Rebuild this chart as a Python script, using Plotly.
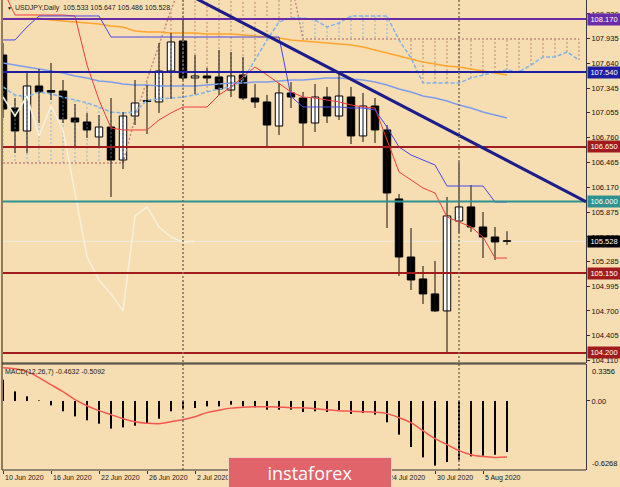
import plotly.graph_objects as go
from datetime import datetime

# ---------------- DATA ----------------
dates = ["2020-06-10", "2020-06-11", "2020-06-12", "2020-06-15", "2020-06-16", "2020-06-17",
         "2020-06-18", "2020-06-19", "2020-06-22", "2020-06-23", "2020-06-24", "2020-06-25",
         "2020-06-26", "2020-06-29", "2020-06-30", "2020-07-01", "2020-07-02", "2020-07-03",
         "2020-07-06", "2020-07-07", "2020-07-08", "2020-07-09", "2020-07-10", "2020-07-13",
         "2020-07-14", "2020-07-15", "2020-07-16", "2020-07-17", "2020-07-20", "2020-07-21",
         "2020-07-22", "2020-07-23", "2020-07-24", "2020-07-27", "2020-07-28", "2020-07-29",
         "2020-07-30", "2020-07-31", "2020-08-03", "2020-08-04", "2020-08-05", "2020-08-06",
         "2020-08-07"]

opens = [107.742, 107.112, 106.839, 107.374, 107.320, 107.314, 106.993, 106.946, 106.768, 106.886,
         106.494, 107.017, 107.200, 107.184, 107.552, 107.909, 107.469, 107.493, 107.481, 107.326,
         107.505, 107.231, 107.184, 106.898, 107.291, 107.231, 106.934, 107.243, 107.017, 107.243,
         106.780, 107.136, 106.851, 106.031, 105.341, 105.080, 104.902, 104.700, 105.769, 105.936,
         105.698, 105.579, 105.533]
highs = [107.885, 107.231, 107.552, 107.576, 107.647, 107.445, 107.160, 107.053, 107.029, 107.231,
         107.065, 107.445, 107.386, 107.885, 108.004, 108.158, 107.742, 107.588, 107.802, 107.778,
         107.719, 107.398, 107.267, 107.409, 107.421, 107.303, 107.398, 107.362, 107.528, 107.362,
         107.291, 107.231, 106.910, 106.090, 105.686, 105.234, 105.294, 106.055, 106.470, 106.197,
         105.876, 105.698, 105.647]
lows = [106.993, 106.577, 106.577, 106.934, 107.207, 106.934, 106.649, 106.756, 106.649, 106.055,
        106.387, 106.910, 106.803, 107.053, 107.219, 107.445, 107.279, 107.409, 107.267, 107.243,
        107.207, 107.112, 106.661, 106.791, 107.112, 106.661, 106.827, 106.934, 106.970, 106.684,
        106.708, 106.696, 105.686, 105.115, 104.949, 104.783, 104.688, 104.200, 105.627, 105.639,
        105.329, 105.306, 105.486]
closes = [107.100, 106.839, 107.374, 107.303, 107.300, 106.982, 106.946, 106.851, 106.886, 106.494,
          107.017, 107.172, 107.190, 107.552, 107.897, 107.469, 107.493, 107.469, 107.338, 107.493,
          107.231, 107.184, 106.910, 107.291, 107.243, 106.934, 107.243, 107.017, 107.255, 106.780,
          107.136, 106.851, 106.102, 105.341, 105.068, 104.902, 104.700, 105.829, 105.936, 105.698,
          105.579, 105.520, 105.528]

tenkan = [108.515, 108.218, 108.218, 108.218, 108.218, 108.218, 108.206, 107.623, 107.207, 106.875,
          106.851, 106.851, 106.851, 106.970, 107.053, 107.124, 107.124, 107.124, 107.267, 107.362,
          107.481, 107.600, 107.505, 107.409, 107.303, 107.243, 107.231, 107.207, 107.184, 107.148,
          107.124, 107.112, 106.732, 106.352, 106.257, 106.161, 106.102, 105.817, 105.757, 105.698,
          105.579, 105.329, 105.329]
kijun = [107.921, 107.921, 108.075, 108.206, 108.206, 108.206, 108.206, 108.206, 108.206, 107.956,
         107.956, 107.956, 107.956, 107.956, 107.956, 107.956, 107.956, 107.956, 107.956, 107.956,
         107.956, 107.956, 107.956, 107.956, 107.250, 107.124, 107.124, 107.124, 107.124, 107.112,
         107.112, 107.089, 106.886, 106.649, 106.554, 106.494, 106.435, 106.185, 106.185, 106.185,
         106.185, 105.995, 105.995]
chikou = [107.243, 107.017, 107.255, 106.780, 107.136, 106.851, 106.102, 105.341, 105.068, 104.902,
          104.700, 105.829, 105.936, 105.698, 105.579, 105.520, 105.528]
span_a = [107.362, 107.267, 107.243, 107.303, 107.279, 107.243, 107.207, 107.172, 107.124, 107.065,
          107.053, 107.065, 107.207, 107.219, 107.231, 107.243, 107.267, 107.303, 107.338, 107.362,
          107.445, 107.683, 107.921, 108.135, 108.182, 108.182, 108.158, 108.075, 108.123, 108.206,
          108.206, 108.206, 108.206, 107.921, 107.707, 107.409, 107.409, 107.409, 107.409, 107.469,
          107.505, 107.540, 107.564, 107.540, 107.623, 107.719, 107.719, 107.778, 107.683]
span_b = [106.459, 106.459, 106.459, 106.459, 106.459, 106.459, 106.459, 106.459, 106.459, 106.459,
          106.459, 106.993, 107.445, 107.861, 108.277, 108.634, 108.634, 108.634, 108.634, 108.634,
          108.634, 108.634, 108.634, 108.634, 108.634, 107.932, 107.932, 107.932, 107.932, 107.932,
          107.932, 107.932, 107.932, 107.932, 107.932, 107.932, 107.932, 107.932, 107.932, 107.932,
          107.932, 107.932, 107.932, 107.932, 107.932, 107.932, 107.932, 107.932, 107.932]
ma_orange = [108.172, 108.172, 108.174, 108.180, 108.158, 108.146, 108.135, 108.123, 108.111, 108.087,
             108.075, 108.028, 108.016, 108.016, 108.004, 108.004, 108.004, 107.992, 107.992, 107.992,
             107.980, 107.968, 107.956, 107.944, 107.921, 107.909, 107.897, 107.885, 107.873, 107.861,
             107.837, 107.802, 107.766, 107.730, 107.695, 107.659, 107.635, 107.612, 107.600, 107.576,
             107.552, 107.528, 107.505]
ma_blue = [107.647, 107.623, 107.600, 107.576, 107.552, 107.528, 107.493, 107.469, 107.433, 107.421,
           107.398, 107.386, 107.386, 107.374, 107.374, 107.374, 107.374, 107.386, 107.398, 107.409,
           107.409, 107.421, 107.421, 107.433, 107.445, 107.445, 107.457, 107.469, 107.469, 107.457,
           107.445, 107.421, 107.386, 107.338, 107.302, 107.255, 107.231, 107.196, 107.148, 107.112,
           107.065, 107.029, 106.993]
macd_main = [0.193, 0.087, 0.042, 0.005, -0.040, -0.094, -0.140, -0.176, -0.206, -0.251,
             -0.240, -0.224, -0.206, -0.161, -0.094, -0.073, -0.064, -0.049, -0.049, -0.034,
             -0.049, -0.058, -0.079, -0.079, -0.079, -0.100, -0.094, -0.100, -0.088, -0.118,
             -0.109, -0.124, -0.194, -0.306, -0.418, -0.512, -0.587, -0.554, -0.533, -0.503,
             -0.497, -0.488, -0.4632]
macd_signal = [0.302, 0.293, 0.266, 0.212, 0.148, 0.084, 0.012, -0.043, -0.088, -0.124,
               -0.161, -0.188, -0.202, -0.206, -0.188, -0.170, -0.143, -0.106, -0.084, -0.065,
               -0.056, -0.052, -0.052, -0.056, -0.061, -0.061, -0.070, -0.079, -0.088, -0.093,
               -0.097, -0.102, -0.115, -0.152, -0.197, -0.270, -0.342, -0.397, -0.451, -0.488,
               -0.505, -0.513, -0.5092]

price_ticks = [108.230, 107.935, 107.640, 107.345, 107.055, 106.760, 106.465, 106.170, 105.875,
               105.580, 105.285, 104.995, 104.700, 104.405, 104.110]
macd_scale = [0.3356, 0.0, -0.6268]
levels = [108.170, 107.540, 106.650, 106.000, 105.150, 104.200]
last_price = 105.528
trend_x = [16.0, 48.58]
trend_y = [108.42, 106.00]
title_text = "USDJPY,Daily  105.533 105.647 105.486 105.528"
macd_text = "MACD(12,26,7) -0.4632 -0.5092"
date_label_idx = [0, 4, 8, 12, 16, 32, 36, 40]   # labels visible (others hidden under watermark)

# ---------------- STYLE ----------------
BG = "#F6DEB2"
FONT = "Liberation Sans"
level_colors = ["#6B2CA8", "#1E1EA0", "#A01C1C", "#2F9292", "#A01C1C", "#A01C1C"]

n = len(dates)
idx = list(range(n))
cloud_idx = list(range(len(span_a)))
dts = [datetime.strptime(d, "%Y-%m-%d") for d in dates]

fig = go.Figure()

# Ichimoku cloud hatching
hb_x, hb_y, hr_x, hr_y = [], [], [], []
for i, (a, b) in enumerate(zip(span_a, span_b)):
    if a >= b:
        hb_x += [i, i, None]; hb_y += [a, b, None]
    else:
        hr_x += [i, i, None]; hr_y += [a, b, None]
fig.add_trace(go.Scatter(x=hb_x, y=hb_y, mode="lines", hoverinfo="skip",
                         line=dict(color="#86B6EA", width=1, dash="2px,2px")))
fig.add_trace(go.Scatter(x=hr_x, y=hr_y, mode="lines", hoverinfo="skip",
                         line=dict(color="#C4877E", width=1, dash="2px,2px")))
fig.add_trace(go.Scatter(x=cloud_idx, y=span_a, mode="lines",
                         line=dict(color="#7FB3EC", width=1.5, dash="4px,2px")))
fig.add_trace(go.Scatter(x=cloud_idx, y=span_b, mode="lines",
                         line=dict(color="#C4877E", width=1.5, dash="2px,2px")))

# moving averages
fig.add_trace(go.Scatter(x=idx, y=ma_orange, mode="lines", line=dict(color="#FFA42E", width=1.5)))
fig.add_trace(go.Scatter(x=idx, y=ma_blue, mode="lines", line=dict(color="#7D9DEB", width=1.5)))

# candles
wx, wy = [], []
for i in idx:
    wx += [i, i, None]; wy += [lows[i], highs[i], None]
fig.add_trace(go.Scatter(x=wx, y=wy, mode="lines", line=dict(color="#101010", width=1), hoverinfo="skip"))
bases = [min(o, c) for o, c in zip(opens, closes)]
heights = [max(abs(c - o), 0.006) for o, c in zip(opens, closes)]
fills = ["#FFFFFF" if c > o else "#000000" for o, c in zip(opens, closes)]
fig.add_trace(go.Bar(x=idx, y=heights, base=bases, width=0.62,
                     marker=dict(color=fills, line=dict(color="#000000", width=1))))

# chikou, tenkan, kijun
fig.add_trace(go.Scatter(x=list(range(len(chikou))), y=chikou, mode="lines",
                         line=dict(color="#F5F1DE", width=1.5)))
fig.add_trace(go.Scatter(x=idx, y=tenkan, mode="lines", line=dict(color="#F23C3C", width=1)))
fig.add_trace(go.Scatter(x=idx, y=kijun, mode="lines", line=dict(color="#4848E8", width=1)))

# MACD
fig.add_trace(go.Bar(x=idx, y=macd_main, width=0.17, marker=dict(color="#000000", line=dict(width=0)),
                     xaxis="x2", yaxis="y2"))
fig.add_trace(go.Scatter(x=idx, y=macd_signal, mode="lines", xaxis="x2", yaxis="y2",
                         line=dict(color="#F2584E", width=1.5, shape="spline")))

# ---------------- SHAPES ----------------
shapes = []
shapes.append(dict(type="line", xref="paper", yref="y", x0=0, x1=1, y0=last_price, y1=last_price,
                   layer="below", line=dict(color="#EEEBE2", width=1)))
for lv, col in zip(levels, level_colors):
    shapes.append(dict(type="line", xref="paper", yref="y", x0=0, x1=1, y0=lv, y1=lv,
                       layer="above", line=dict(color=col, width=2)))
shapes.append(dict(type="line", xref="x", yref="y", x0=trend_x[0], x1=trend_x[1],
                   y0=trend_y[0], y1=trend_y[1], layer="above",
                   line=dict(color="#1C1C8A", width=3)))
for i in range(1, n):
    if dts[i].month != dts[i - 1].month:
        shapes.append(dict(type="line", xref="x", yref="paper", x0=i, x1=i, y0=0, y1=1,
                           layer="above", line=dict(color="#7A6E5E", width=1.5, dash="2px,2px")))
P_BOT = 107 / 470
M_TOP = 106 / 470
shapes += [
    dict(type="line", xref="paper", yref="paper", x0=0, x1=0, y0=0, y1=1,
         line=dict(color="#8E7C60", width=2)),
    dict(type="line", xref="paper", yref="paper", x0=0, x1=1, y0=P_BOT, y1=P_BOT,
         line=dict(color="#2E2E2E", width=1)),
    dict(type="line", xref="paper", yref="paper", x0=0, x1=1, y0=M_TOP, y1=M_TOP,
         line=dict(color="#2E2E2E", width=1)),
    dict(type="line", xref="paper", yref="paper", x0=0, x1=1, y0=0, y1=0,
         line=dict(color="#2E2E2E", width=1)),
]

# ---------------- ANNOTATIONS ----------------
ann = []
ann.append(dict(text="▼", xref="paper", yref="paper", x=3 / 584, y=1, xanchor="left", yanchor="top",
                yshift=-3, showarrow=False, font=dict(size=5, color="#111111")))
ann.append(dict(text=title_text, xref="paper", yref="paper", x=11 / 584, y=1, xanchor="left",
                yanchor="top", yshift=-2, showarrow=False, font=dict(size=7, color="#222222", family=FONT)))
ann.append(dict(text=macd_text, xref="paper", yref="paper", x=1 / 584, y=M_TOP, xanchor="left",
                yanchor="top", yshift=-2, showarrow=False, font=dict(size=7, color="#222222", family=FONT)))
ann.append(dict(text=f"{macd_scale[0]:.4f}", xref="paper", yref="y2", x=1, y=macd_scale[0],
                xanchor="left", yanchor="top", xshift=4, yshift=-1, showarrow=False,
                font=dict(size=7.5, color="#111111", family=FONT)))
ann.append(dict(text=f"{macd_scale[2]:.4f}", xref="paper", yref="y2", x=1, y=macd_scale[2],
                xanchor="left", yanchor="bottom", xshift=4, yshift=0, showarrow=False,
                font=dict(size=7.5, color="#111111", family=FONT)))

label_vals = levels + [last_price]
label_cols = level_colors + ["#000000"]
for v, col in zip(label_vals, label_cols):
    ann.append(dict(text=f"{v:.3f}", xref="paper", yref="y", x=1, y=v, xanchor="left", yanchor="middle",
                    xshift=1, showarrow=False, bgcolor=col, borderpad=1, width=30,
                    font=dict(size=7.5, color="#FFFFFF", family=FONT)))

tick_idx = list(range(0, n, 4))
for i in date_label_idx:
    d = dts[i]
    ann.append(dict(text=f"{d.day} {d.strftime('%b %Y')}", xref="x", yref="paper", x=i, y=0,
                    xanchor="left", yanchor="top", xshift=0, yshift=-2, showarrow=False,
                    font=dict(size=7, color="#1A1A1A", family=FONT)))

ann.append(dict(text="instaforex", xref="paper", yref="paper", x=226 / 584, y=13 / 470,
                xanchor="left", yanchor="top", showarrow=False, width=162, height=30,
                bgcolor="#E0646A", bordercolor="#F2D2C4", borderwidth=1, borderpad=0,
                align="center", valign="middle",
                font=dict(size=18, color="#FFFFFF", family="Open Sans")))

fig.update_layout(
    width=620, height=487,
    margin=dict(l=2, r=34, t=0, b=17, autoexpand=False),
    paper_bgcolor=BG, plot_bgcolor=BG,
    showlegend=False, barmode="overlay", hovermode=False,
    xaxis=dict(domain=[0, 1], range=[-0.083, 48.583], anchor="y", showticklabels=False,
               showgrid=False, zeroline=False, ticks=""),
    xaxis2=dict(domain=[0, 1], matches="x", anchor="y2", showgrid=False, zeroline=False,
                ticks="outside", ticklen=3, tickcolor="#333333", tickvals=tick_idx,
                showticklabels=False),
    yaxis=dict(domain=[P_BOT, 1], range=[104.081, 108.396], side="right",
               tickvals=price_ticks, ticktext=[f"{v:.3f}" for v in price_ticks],
               ticks="outside", ticklen=3, tickcolor="#333333",
               tickfont=dict(size=7.5, color="#111111", family=FONT),
               showgrid=False, zeroline=False, showline=True, linecolor="#3A3A3A", linewidth=1),
    yaxis2=dict(domain=[0, M_TOP], range=[macd_scale[2], macd_scale[0]], side="right",
                tickvals=[macd_scale[1]], ticktext=["0.00"],
                ticks="outside", ticklen=3, tickcolor="#333333",
                tickfont=dict(size=7.5, color="#111111", family=FONT),
                showgrid=False, zeroline=False, showline=True, linecolor="#3A3A3A", linewidth=1),
    shapes=shapes,
    annotations=ann,
)

fig.write_html("out.html", config={"displayModeBar": False, "staticPlot": True},
               post_script="document.body.style.margin='0';document.body.style.padding='0';"
                           "document.body.style.background='" + BG + "';")
